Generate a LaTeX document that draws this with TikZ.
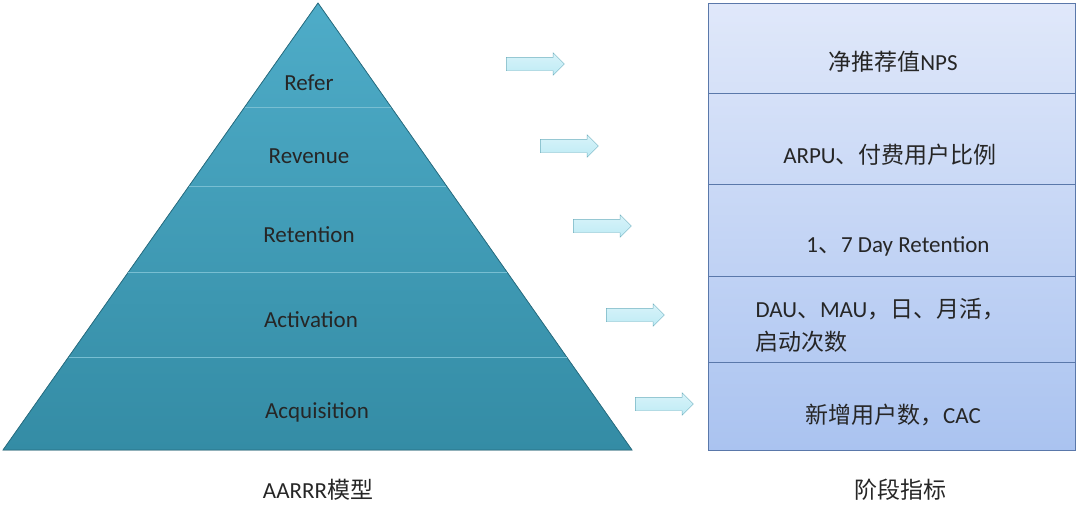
\documentclass[tikz,border=0pt]{standalone}
\usepackage{fontspec}
\setmainfont{Carlito}
\newfontfamily\cjk{Noto Sans CJK SC}
\usetikzlibrary{shapes.arrows,calc}
\definecolor{pyrtop}{RGB}{78,172,200}
\definecolor{pyrbot}{RGB}{52,140,165}
\definecolor{pyredge}{RGB}{40,110,130}
\definecolor{pyrline}{RGB}{120,190,210}
\definecolor{boxtop}{RGB}{224,232,250}
\definecolor{boxbot}{RGB}{170,195,240}
\definecolor{boxedge}{RGB}{90,120,170}
\definecolor{arrfill}{RGB}{190,235,245}
\definecolor{arredge}{RGB}{110,175,190}
\tikzset{
  lbl/.style={font=\fontsize{23}{27}\selectfont, text=black!85},
  stage/.style={lbl},
  blockarrow/.style={single arrow, draw=arredge, top color=arrfill!60!white, bottom color=arrfill,
    single arrow head extend=4.5pt, minimum height=58pt, inner sep=6.5pt}
}
\begin{document}
\begin{tikzpicture}[x=1pt,y=-1pt]
\useasboundingbox (0,0) rectangle (1080,525);
% pyramid
\coordinate (apex) at (318,3);
\coordinate (bl) at (3,450);
\coordinate (br) at (632,450);
\fill[top color=pyrtop, bottom color=pyrbot] (apex) -- (br) -- (bl) -- cycle;
\draw[pyredge, line width=0.8pt] (apex) -- (br) -- (bl) -- cycle;
\foreach \t in {0.233,0.409,0.602,0.792}
  \draw[pyrline, line width=0.6pt] ($(apex)!\t!(bl)$) -- ($(apex)!\t!(br)$);
\node[stage] (refer) at (309,83) {Refer};
\node[stage] (revenue) at (309,156) {Revenue};
\node[stage] (retention) at (309,235) {Retention};
\node[stage] (activation) at (311,320) {Activation};
\node[stage] (acquisition) at (317,412) {Acquisition};
% metrics box
\shade[top color=boxtop, bottom color=boxbot] (708,3) rectangle (1075,450);
\draw[boxedge, line width=0.7pt] (708,3) rectangle (1075,450);
\foreach \y in {93,184,276,362}
  \draw[boxedge, line width=0.7pt] (708,\y) -- (1075,\y);
\node[lbl] (nps) at (893,62) {{\cjk 净推荐值}NPS};
\node[lbl] (arpu) at (890,155) {ARPU{\cjk 、付费用户比例}};
\node[lbl] (ret) at (898,246) {1{\cjk 、}7 Day Retention};
\node[lbl, anchor=west] (dau) at (752,309) {DAU{\cjk 、}MAU{\cjk ，日、月活，}};
\node[lbl, anchor=west] (starts) at (752,342) {\cjk 启动次数};
\node[lbl] (cac) at (893,415) {{\cjk 新增用户数，}CAC};
% arrows
\node[blockarrow] (a1) at (532,64) {};
\node[blockarrow] (a2) at (566,146) {};
\node[blockarrow] (a3) at (599,226) {};
\node[blockarrow] (a4) at (632,315) {};
\node[blockarrow] (a5) at (661,404) {};
% captions
\node[lbl] (model) at (318,490) {AARRR{\cjk 模型}};
\node[lbl] (metrics) at (900,490) {\cjk 阶段指标};
\end{tikzpicture}
\end{document}
